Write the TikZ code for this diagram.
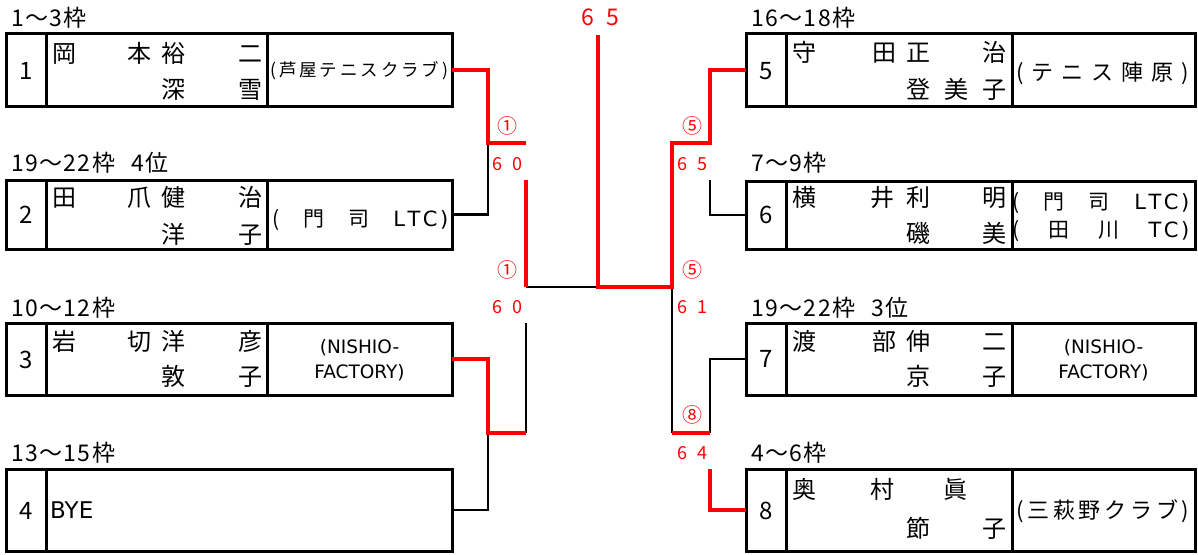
\documentclass[tikz,border=0pt]{standalone}
\usepackage{fontspec}
\setmainfont{Noto Sans CJK JP}
\newfontfamily\lat{DejaVu Sans}
\newfontfamily\hdrfont[LetterSpace=6]{Noto Sans CJK JP}
\definecolor{wred}{RGB}{255,0,0}
\newcommand\pairsc[3]{\makebox[#1pt]{#2}\makebox[#1pt]{#3}}
\newcommand\ltcs{{\lat L\hspace{2.5pt}T\hspace{2.5pt}C\hspace{2.5pt})}}
\newcommand\tcs{{\lat T\hspace{2.5pt}C\hspace{2.5pt})}}
\begin{document}
\begin{tikzpicture}[x=1pt,y=-1pt,
  box/.style={draw, line width=3pt, rectangle, inner sep=0pt, outer sep=0pt, anchor=north west},
  div/.style={line width=3pt},
  blk/.style={line width=2.5pt, black},
  rd/.style={line width=4pt, wred},
  hdr/.style={anchor=base west, inner sep=0pt, font=\hdrfont\fontsize{23}{23}\selectfont},
  num/.style={anchor=base, inner sep=0pt, font=\fontsize{24}{24}\selectfont},
  nm/.style={anchor=base west, inner sep=0pt, font=\fontsize{24}{24}\selectfont},
  nmc/.style={anchor=base, inner sep=0pt, font=\fontsize{24}{24}\selectfont},
  club/.style={anchor=base west, inner sep=0pt},
  latc/.style={anchor=base, inner sep=0pt, font=\lat\fontsize{18.5}{18.5}\selectfont},
  sc/.style={anchor=base, inner sep=0pt, text=wred, font=\fontsize{18}{18}\selectfont},
  circ/.style={anchor=base, inner sep=0pt, text=wred, font=\fontsize{20}{20}\selectfont}]
\useasboundingbox (0,0) rectangle (1198,554);

% boxes
\node[box, minimum width=446pt, minimum height=73pt] (b1) at (6,33) {};
\node[box, minimum width=446pt, minimum height=69pt] (b2) at (6,180) {};
\node[box, minimum width=446pt, minimum height=72pt] (b3) at (6,323) {};
\node[box, minimum width=446pt, minimum height=82pt] (b4) at (6,469) {};
\node[box, minimum width=449pt, minimum height=73pt] (b5) at (746,33) {};
\node[box, minimum width=449pt, minimum height=68pt] (b6) at (746,181) {};
\node[box, minimum width=449pt, minimum height=72pt] (b7) at (746,323) {};
\node[box, minimum width=449pt, minimum height=82pt] (b8) at (746,469) {};

% dividers
\draw[div] (46,33) -- (46,106);
\draw[div] (267,33) -- (267,106);
\draw[div] (46,180) -- (46,249);
\draw[div] (267,180) -- (267,249);
\draw[div] (46,323) -- (46,395);
\draw[div] (267,323) -- (267,395);
\draw[div] (46,469) -- (46,551);
\draw[div] (786,33) -- (786,106);
\draw[div] (1012,33) -- (1012,106);
\draw[div] (786,181) -- (786,249);
\draw[div] (1012,181) -- (1012,249);
\draw[div] (786,323) -- (786,395);
\draw[div] (1012,323) -- (1012,395);
\draw[div] (786,469) -- (786,551);
\draw[div] (1012,469) -- (1012,551);

% headers
\node[hdr] (h1) at (11,26) {1～3枠};
\node[hdr] (h2) at (11,171.5) {19～22枠\hspace{16pt}4位};
\node[hdr] (h3) at (11,316) {10～12枠};
\node[hdr] (h4) at (11,461.5) {13～15枠};
\node[hdr] (h5) at (751,26) {16～18枠};
\node[hdr] (h6) at (751,171.5) {7～9枠};
\node[hdr] (h7) at (751,316) {19～22枠\hspace{16pt}3位};
\node[hdr] (h8) at (751,461.5) {4～6枠};

% numbers
\node[num] (n1) at (26,79.5) {1};
\node[num] (n2) at (26,223.5) {2};
\node[num] (n3) at (26,368) {3};
\node[num] (n4) at (26,519) {4};
\node[num] (n5) at (766,79.5) {5};
\node[num] (n6) at (766,223.5) {6};
\node[num] (n7) at (766,367.5) {7};
\node[num] (n8) at (766,519) {8};

% names left
\node[nm] (m1a) at (52,62.5) {\makebox[99pt][s]{岡\hfill 本}};
\node[nm] (m1b) at (161,62.5) {\makebox[101pt][s]{裕\hfill 二}};
\node[nm] (m1d) at (161,98.5) {\makebox[101pt][s]{深\hfill 雪}};
\node[nm] (m2a) at (52,206.5) {\makebox[99pt][s]{田\hfill 爪}};
\node[nm] (m2b) at (161,206.5) {\makebox[101pt][s]{健\hfill 治}};
\node[nm] (m2d) at (161,243.5) {\makebox[101pt][s]{洋\hfill 子}};
\node[nm] (m3a) at (52,350.5) {\makebox[99pt][s]{岩\hfill 切}};
\node[nm] (m3b) at (161,350.5) {\makebox[101pt][s]{洋\hfill 彦}};
\node[nm] (m3d) at (161,385.5) {\makebox[101pt][s]{敦\hfill 子}};
% names right
\node[nm] (m5a) at (792,61.5) {\makebox[104pt][s]{守\hfill 田}};
\node[nm] (m5b) at (906,61.5) {\makebox[100pt][s]{正\hfill 治}};
\node[nm] (m5d) at (906,98.5) {\makebox[100pt][s]{登\hfill 美\hfill 子}};
\node[nm] (m6a) at (792,206.5) {\makebox[102pt][s]{横\hfill 井}};
\node[nm] (m6b) at (906,206.5) {\makebox[100pt][s]{利\hfill 明}};
\node[nm] (m6d) at (906,242.5) {\makebox[100pt][s]{磯\hfill 美}};
\node[nm] (m7a) at (792,350.5) {\makebox[104pt][s]{渡\hfill 部}};
\node[nm] (m7b) at (906,350.5) {\makebox[100pt][s]{伸\hfill 二}};
\node[nm] (m7d) at (906,385.5) {\makebox[100pt][s]{京\hfill 子}};
\node[nm] (m8a) at (792,498.5) {\makebox[102pt][s]{奥\hfill 村}};
\node[nmc] (m8b) at (955,498.5) {眞};
\node[nm] (m8d) at (906,537.5) {\makebox[100pt][s]{節\hfill 子}};

% clubs
\node[club, font=\fontsize{17.5}{17.5}\selectfont] (c1) at (270,76.5)
  {\makebox[178pt][s]{(\hfill 芦\hfill 屋\hfill テ\hfill ニ\hfill ス\hfill ク\hfill ラ\hfill ブ\hfill )}};
\node[club, font=\fontsize{21}{21}\selectfont] (c2) at (272,226.8)
  {\makebox[176pt][s]{(\hfill 門\hfill 司\hfill \ltcs}};
\node[latc] (c3a) at (359.5,353.8) {(NISHIO-};
\node[latc] (c3b) at (359.5,378.8) {FACTORY)};
\node[club, font=\lat\fontsize{23}{23}\selectfont] (c4) at (50,518.5) {BYE};
\node[club, font=\fontsize{22}{22}\selectfont] (c5) at (1016,80.2)
  {\makebox[173pt][s]{(\hfill テ\hfill ニ\hfill ス\hfill 陣\hfill 原\hfill )}};
\node[club, font=\fontsize{21}{21}\selectfont] (c6a) at (1012,209.8)
  {\makebox[177pt][s]{(\hfill 門\hfill 司\hfill \ltcs}};
\node[club, font=\fontsize{21}{21}\selectfont] (c6b) at (1012,237.8)
  {\makebox[177pt][s]{(\hfill 田\hfill 川\hfill \tcs}};
\node[latc] (c7a) at (1103.5,353.8) {(NISHIO-};
\node[latc] (c7b) at (1103.5,378.8) {FACTORY)};
\node[club, font=\fontsize{22}{22}\selectfont] (c8) at (1016,518.2)
  {\makebox[173pt][s]{(\hfill 三\hfill 萩\hfill 野\hfill ク\hfill ラ\hfill ブ\hfill )}};

% junction coordinates
\coordinate (Ja) at (488,143);
\coordinate (Jat) at (526,143);
\coordinate (Jb) at (488,433);
\coordinate (Jbt) at (526,433);
\coordinate (Sa) at (526,180);
\coordinate (Sb) at (526,323);
\coordinate (LF) at (526,287);
\coordinate (F) at (598,287);
\coordinate (Ftop) at (598,35);
\coordinate (RF) at (672,287);
\coordinate (Jc) at (710,143);
\coordinate (Jct) at (672,143);
\coordinate (Jc2) at (710,180);
\coordinate (Jd) at (710,433);
\coordinate (Jdt) at (672,433);
\coordinate (Je) at (710,469);

% black connectors
\draw[blk] (b2.east) -| (Ja);
\draw[blk] (b4.east) -| (Jb);
\draw[blk] (Sb) -- (Jbt);
\draw[blk] (LF) -- (F);
\draw[blk] (b6.west) -| (Jc2);
\draw[blk] (b7.west) -| (Jd);
\draw[blk] (RF) -- (Jdt);
% red connectors
\draw[rd] (b1.east) -| (Ja) -- (Jat);
\draw[rd] (b3.east) -| (Jb) -- (Jbt);
\draw[rd] (Sa) -- (LF);
\draw[rd] (Ftop) -- (F) -- (RF) -- (Jct) -- (Jc) |- (b5.west);
\draw[rd] (Jdt) -- (Jd);
\draw[rd] (Je) |- (b8.west);

% scores
\node[sc, font=\fontsize{23}{23}\selectfont] (fin) at (600,25.7) {\pairsc{25}{6}{5}};
\node[circ] (q1) at (507.5,133.5) {①};
\node[sc] (s1) at (507.5,170) {\pairsc{20}{6}{0}};
\node[circ] (q2) at (507.5,277.5) {①};
\node[sc] (s2) at (507.5,313) {\pairsc{20}{6}{0}};
\node[circ] (q3) at (692,133.5) {⑤};
\node[sc] (s3) at (692,170) {\pairsc{20}{6}{5}};
\node[circ] (q4) at (692,277.5) {⑤};
\node[sc] (s4) at (692,313) {\pairsc{20}{6}{1}};
\node[circ] (q5) at (692,422.5) {⑧};
\node[sc] (s5) at (692,459) {\pairsc{20}{6}{4}};
\end{tikzpicture}
\end{document}
